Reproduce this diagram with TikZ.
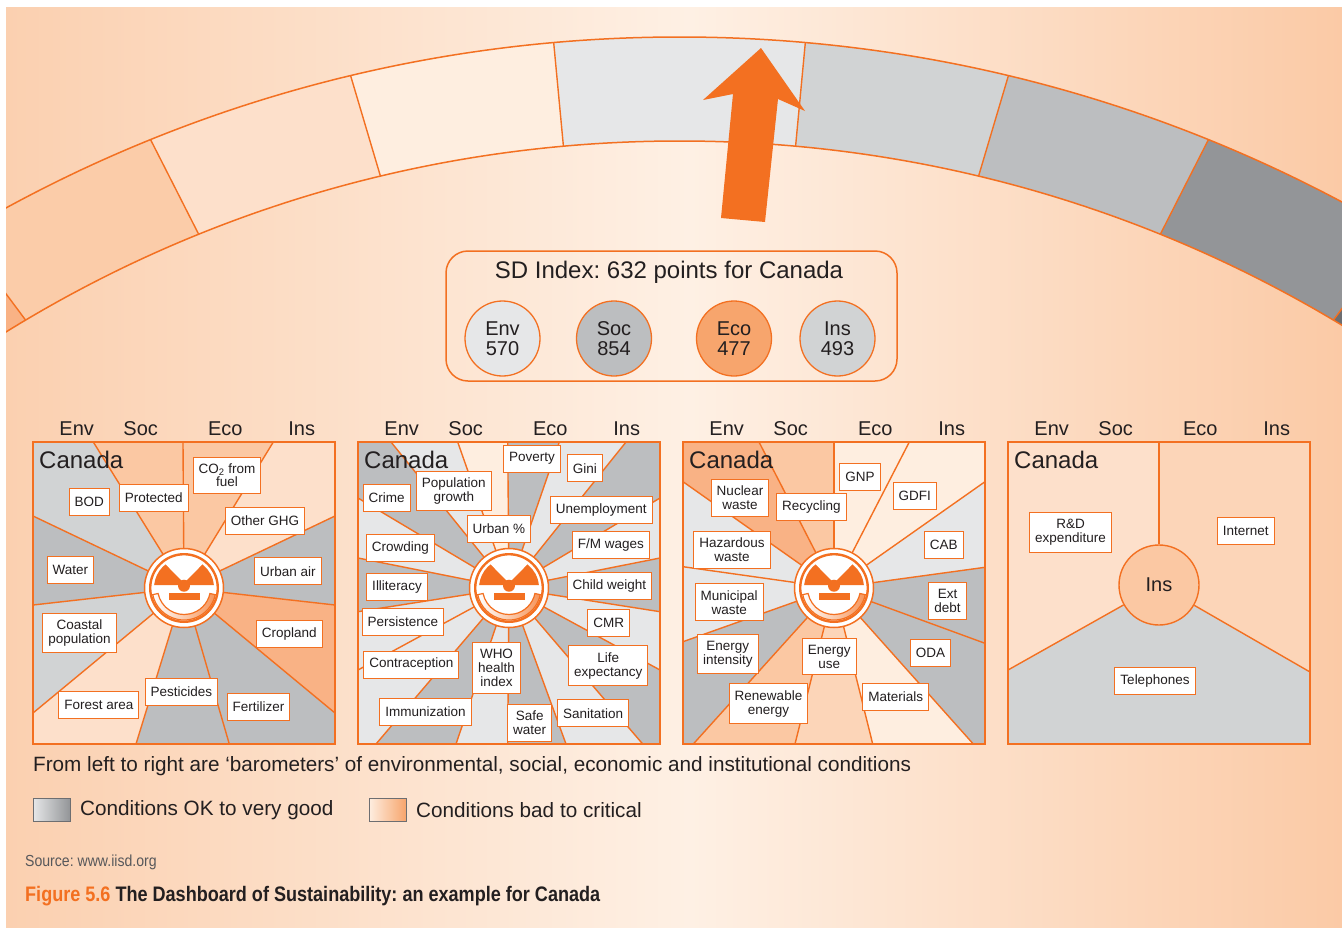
\documentclass[tikz,border=0pt]{standalone}
\usepackage{fontspec}
\setmainfont{Liberation Sans}
\usepackage{graphicx}
\usetikzlibrary{calc}
\definecolor{orng}{HTML}{F37021}
\definecolor{txt}{HTML}{231F20}
\definecolor{gA}{HTML}{E6E7E8}
\definecolor{gB}{HTML}{D1D3D4}
\definecolor{gC}{HTML}{BCBEC0}
\definecolor{gD}{HTML}{939598}
\definecolor{gE}{HTML}{6D6E71}
\definecolor{pA}{HTML}{FEEEE0}
\definecolor{pB}{HTML}{FDE0CB}
\definecolor{pC}{HTML}{FCD5B8}
\definecolor{pD}{HTML}{FBC8A3}
\definecolor{pE}{HTML}{F9B285}
\definecolor{pF}{HTML}{F7A56D}
\definecolor{bgL}{HTML}{FBD0B0}
\definecolor{bgM}{HTML}{FEF0E4}
\definecolor{bgR}{HTML}{FBCAA6}
\newcommand\fsz[2]{\fontsize{#1}{#2}\selectfont}
\frenchspacing
\tikzset{
 lbl/.style={draw=orng, line width=1pt, fill=white, inner xsep=5.5pt, inner ysep=6.5pt, minimum height=27pt, align=center, text=txt, font=\fsz{13.5}{14}},
 hdr/.style={text=txt, font=\fsz{20}{20}, inner sep=0pt},
 ray/.style={draw=orng, line width=1.4pt},
 frame/.style={draw=orng, line width=2pt},
 idx/.style={circle, draw=orng, line width=1.3pt, minimum size=75pt, inner sep=0pt, align=center, text=txt, font=\fsz{20}{20.5}},
 dial/.pic={
  \fill[white, draw=orng, line width=1.5pt] (0pt,0pt) circle[radius=39.5pt];
  \draw[orng, line width=2.4pt] (0pt,0pt) circle[radius=33.8pt];
  \fill[orng] (-29.85pt,3pt) -- (29.85pt,3pt) arc[start angle=5.74, end angle=174.26, radius=30pt] -- cycle;
  \fill[white] (0pt,5pt) -- (52:31pt) arc[start angle=52, end angle=128, radius=31pt] -- cycle;
  \fill[orng] (0pt,2.3pt) circle[radius=6pt];
  \fill[orng] (-15.5pt,-5pt) rectangle (15.5pt,-12.3pt);
  \path[draw=orng, line width=1.2pt, left color=white, right color=orng!75] (192:26.5pt) arc[start angle=192, end angle=348, radius=26.5pt] -- (348:32pt) arc[start angle=348, end angle=192, radius=32pt] -- cycle;
 }
}
\begin{document}
\begin{tikzpicture}[x=1pt,y=-1pt]
\useasboundingbox (0,0) rectangle (1342,927);
\fill[white] (0,0) rectangle (1342,927);
\fill[left color=bgL, right color=bgM] (6,7) rectangle (690,927);
\fill[left color=bgM, right color=bgR] (689.5,7) rectangle (1342,927);

% ---------- arc band ----------
\coordinate (I1) at (26.8,321.7);  \coordinate (O1) at (-40,232);
\coordinate (I2) at (198.7,234.3); \coordinate (O2) at (150.4,139.3);
\coordinate (I3) at (380.3,175.7); \coordinate (O3) at (350.4,75);
\coordinate (I4) at (563.4,146);   \coordinate (O4) at (553.6,41.7);
\coordinate (I5) at (795.6,146);   \coordinate (O5) at (805.4,41.7);
\coordinate (I6) at (978.7,175.7); \coordinate (O6) at (1008.6,75);
\coordinate (I7) at (1160.3,234.3);\coordinate (O7) at (1208.6,139.3);
\coordinate (I8) at (1332.2,321.7);\coordinate (O8) at (1399,232);
\foreach \i in {1,...,8}{
  \coordinate (A\i) at ($(I\i)!1.8!(O\i)$);
  \coordinate (B\i) at ($(O\i)!1.8!(I\i)$);
}
\begin{scope}
\clip (6,7) rectangle (1342,927);
\begin{scope}[even odd rule]
\clip (679.5,1447) circle[radius=1410pt] (679.5,1423) circle[radius=1282pt];
\fill[pE] (-400,0) -- (A1) -- (B1) -- (-400,700) -- cycle;
\fill[pD!70!pC] (A1) -- (B1) -- (B2) -- (A2) -- cycle;
\fill[pB] (A2) -- (B2) -- (B3) -- (A3) -- cycle;
\fill[pA] (A3) -- (B3) -- (B4) -- (A4) -- cycle;
\fill[gA] (A4) -- (B4) -- (B5) -- (A5) -- cycle;
\fill[gB] (A5) -- (B5) -- (B6) -- (A6) -- cycle;
\fill[gC] (A6) -- (B6) -- (B7) -- (A7) -- cycle;
\fill[gD] (A7) -- (B7) -- (B8) -- (A8) -- cycle;
\fill[gE] (A8) -- (B8) -- (1800,700) -- (1800,0) -- cycle;
\foreach \i in {1,...,8}{ \draw[ray] (A\i) -- (B\i); }
\end{scope}
\draw[orng, line width=1.5pt] (679.5,1447) circle[radius=1410pt];
\draw[orng, line width=1.5pt] (679.5,1423) circle[radius=1282pt];
\end{scope}

% arrow
\fill[orng] (761,48) -- (805,111) -- (778,99) -- (765,222) -- (721,218) -- (733,94) -- (703,100) -- cycle;

% ---------- SD index ----------
\node[draw=orng, line width=1.5pt, rounded corners=22pt, minimum width=451pt, minimum height=130pt, inner sep=0pt] (sdbox) at (671.5,316) {};
\node[text=txt, font=\fsz{24}{24}, inner sep=0pt] (sdtitle) at (669,272) {SD Index: 632 points for Canada};
\node[idx, fill=gA] (ienv) at (502.5,338.5) {Env\\570};
\node[idx, fill=gC] (isoc) at (614,338.5) {Soc\\854};
\node[idx, fill=pF] (ieco) at (734,338.5) {Eco\\477};
\node[idx, fill=gB] (iins) at (837.5,338.5) {Ins\\493};

% ---------- headers ----------
\foreach \k in {0,1,2,3}{
  \node[hdr] (henv\k) at (76.7+325*\k,429) {Env};
  \node[hdr] (hsoc\k) at (140.7+325*\k,429) {Soc};
  \node[hdr] (heco\k) at (225.3+325*\k,429) {Eco};
  \node[hdr] (hins\k) at (301.7+325*\k,429) {Ins};
}

% ---------- panel 1 ----------
\coordinate (c1) at (184,588);
\fill[gB] (c1) -- (33,516) -- (33,442) -- (93.3,442) -- cycle;
\fill[pD] (c1) -- (93.3,442) -- (183,442) -- cycle;
\fill[pD] (c1) -- (183,442) -- (273.3,442) -- cycle;
\fill[pB] (c1) -- (273.3,442) -- (335,442) -- (335,516) -- cycle;
\fill[gC] (c1) -- (335,516) -- (335,605) -- cycle;
\fill[pE] (c1) -- (335,605) -- (335,713) -- cycle;
\fill[gC] (c1) -- (335,713) -- (335,744) -- (229.3,744) -- cycle;
\fill[gC] (c1) -- (229.3,744) -- (136,744) -- cycle;
\fill[pB] (c1) -- (136,744) -- (33,744) -- (33,713) -- cycle;
\fill[gB] (c1) -- (33,713) -- (33,605) -- cycle;
\fill[gC] (c1) -- (33,605) -- (33,516) -- cycle;
\foreach \x/\y in {93.3/442,183/442,273.3/442,335/516,335/605,335/713,229.3/744,136/744,33/713,33/605,33/516}
  \draw[ray] (c1) -- (\x,\y);
\draw[frame] (33,442) rectangle (335,744);
\pic at (c1) {dial};

% ---------- panel 2 ----------
\coordinate (c2) at (509,588);
\fill[gC] (c2) -- (358,498) -- (358,442) -- (391,442) -- cycle;
\fill[gA] (c2) -- (391,442) -- (457.7,442) -- cycle;
\fill[pA] (c2) -- (457.7,442) -- (507.7,442) -- cycle;
\fill[gC] (c2) -- (507.7,442) -- (559.3,442) -- cycle;
\fill[gA] (c2) -- (559.3,442) -- (626,442) -- cycle;
\fill[gC] (c2) -- (626,442) -- (660,442) -- (660,498) -- cycle;
\fill[gA] (c2) -- (660,498) -- (660,558) -- cycle;
\fill[gC] (c2) -- (660,558) -- (660,611.7) -- cycle;
\fill[gA] (c2) -- (660,611.7) -- (660,670) -- cycle;
\fill[gC] (c2) -- (660,670) -- (660,744) -- (642.7,744) -- cycle;
\fill[gA] (c2) -- (642.7,744) -- (566,744) -- cycle;
\fill[gC] (c2) -- (566,744) -- (507.7,744) -- cycle;
\fill[gA] (c2) -- (507.7,744) -- (456,744) -- cycle;
\fill[gC] (c2) -- (456,744) -- (376,744) -- cycle;
\fill[gA] (c2) -- (376,744) -- (358,744) -- (358,670) -- cycle;
\fill[gA] (c2) -- (358,670) -- (358,611.7) -- cycle;
\fill[gC] (c2) -- (358,611.7) -- (358,558) -- cycle;
\fill[gA] (c2) -- (358,558) -- (358,498) -- cycle;
\foreach \x/\y in {391/442,457.7/442,507.7/442,559.3/442,626/442,660/498,660/558,660/611.7,660/670,642.7/744,566/744,507.7/744,456/744,376/744,358/670,358/611.7,358/558,358/498}
  \draw[ray] (c2) -- (\x,\y);
\draw[frame] (358,442) rectangle (660,744);
\pic at (c2) {dial};

% ---------- panel 3 ----------
\coordinate (c3) at (834,588);
\fill[pE] (c3) -- (683,481.7) -- (683,442) -- (759,442) -- cycle;
\fill[pD] (c3) -- (759,442) -- (834,442) -- cycle;
\fill[pA] (c3) -- (834,442) -- (909.3,442) -- cycle;
\fill[pA] (c3) -- (909.3,442) -- (985,442) -- (985,481.7) -- cycle;
\fill[gA] (c3) -- (985,481.7) -- (985,567.3) -- cycle;
\fill[gC] (c3) -- (985,567.3) -- (985,643.3) -- cycle;
\fill[gC] (c3) -- (985,643.3) -- (985,744) -- (973.3,744) -- cycle;
\fill[pA] (c3) -- (973.3,744) -- (872.7,744) -- cycle;
\fill[pC] (c3) -- (872.7,744) -- (795,744) -- cycle;
\fill[pD] (c3) -- (795,744) -- (693.3,744) -- cycle;
\fill[gC] (c3) -- (693.3,744) -- (683,744) -- (683,641.7) -- cycle;
\fill[gA] (c3) -- (683,641.7) -- (683,566.7) -- cycle;
\fill[gA] (c3) -- (683,566.7) -- (683,481.7) -- cycle;
\foreach \x/\y in {759/442,834/442,909.3/442,985/481.7,985/567.3,985/643.3,973.3/744,872.7/744,795/744,693.3/744,683/641.7,683/566.7,683/481.7}
  \draw[ray] (c3) -- (\x,\y);
\draw[frame] (683,442) rectangle (985,744);
\pic at (c3) {dial};

% ---------- panel 4 ----------
\coordinate (c4) at (1159,585);
\fill[pB] (c4) -- (1159,442) -- (1008,442) -- (1008,670) -- cycle;
\fill[pC] (c4) -- (1159,442) -- (1310,442) -- (1310,672) -- cycle;
\fill[gB] (c4) -- (1008,670) -- (1008,744) -- (1310,744) -- (1310,672) -- cycle;
\node[circle, draw=orng, line width=1.4pt, fill=pD, minimum size=80pt, inner sep=0pt, text=txt, font=\fsz{20}{20}] (ins4) at (c4) {Ins};
\draw[ray] (ins4) -- (1159,442);
\draw[ray] (ins4) -- (1008,670);
\draw[ray] (ins4) -- (1310,672);
\draw[frame] (1008,442) rectangle (1310,744);

% Canada titles
\foreach \k in {0,1,2,3}{
  \node[anchor=west, text=txt, font=\fsz{24}{24}, inner sep=0pt] (can\k) at (39+325*\k,460) {Canada};
}

% ---------- labels panel 1 ----------
\node[lbl] (bod) at (89.3,502) {BOD};
\node[lbl] (prot) at (153.7,498) {Protected};
\node[lbl, font=\fsz{13.5}{13}] (co2) at (227,475.5) {CO\textsubscript{2} from\\fuel};
\node[lbl] (oghg) at (265,520.7) {Other GHG};
\node[lbl] (water) at (70.3,570.3) {Water};
\node[lbl] (uair) at (288,571.3) {Urban air};
\node[lbl] (coast) at (79.5,632.8) {Coastal\\population};
\node[lbl] (crop) at (289.3,633.7) {Cropland};
\node[lbl] (pest) at (181.3,691.7) {Pesticides};
\node[lbl] (forest) at (98.8,704.7) {Forest area};
\node[lbl] (fert) at (258.5,707) {Fertilizer};

% ---------- labels panel 2 ----------
\node[lbl] (pov) at (532,458.7) {Poverty};
\node[lbl] (gini) at (584.8,468.3) {Gini};
\node[lbl] (popg) at (453.8,490.8) {Population\\growth};
\node[lbl] (crime) at (386.7,497.5) {Crime};
\node[lbl] (unemp) at (601.3,510.3) {Unemployment};
\node[lbl] (urban) at (498.8,529) {Urban \%};
\node[lbl] (crowd) at (400.3,548) {Crowding};
\node[lbl] (fmw) at (610.8,545) {F/M wages};
\node[lbl] (illit) at (397,586.7) {Illiteracy};
\node[lbl] (child) at (609.5,586) {Child weight};
\node[lbl] (pers) at (402.8,621.7) {Persistence};
\node[lbl] (cmr) at (608.7,623.3) {CMR};
\node[lbl] (contra) at (411.3,664.5) {Contraception};
\node[lbl] (who) at (496.5,667.8) {WHO\\health\\index};
\node[lbl] (life) at (608.3,665.7) {Life\\expectancy};
\node[lbl] (immun) at (425.5,711.7) {Immunization};
\node[lbl] (safew) at (529.7,722.7) {Safe\\water};
\node[lbl] (sanit) at (593.2,713.3) {Sanitation};

% ---------- labels panel 3 ----------
\node[lbl] (gnp) at (860,476.7) {GNP};
\node[lbl] (nucl) at (740,498) {Nuclear\\waste};
\node[lbl] (gdfi) at (914.7,496.3) {GDFI};
\node[lbl] (recyc) at (811.3,507.2) {Recycling};
\node[lbl] (hazw) at (732,549.7) {Hazardous\\waste};
\node[lbl] (cab) at (943.8,545.3) {CAB};
\node[lbl] (munw) at (729.2,602.3) {Municipal\\waste};
\node[lbl] (extd) at (947.5,600.8) {Ext\\debt};
\node[lbl] (enint) at (727.8,654) {Energy\\intensity};
\node[lbl] (enuse) at (829.2,656.7) {Energy\\use};
\node[lbl] (oda) at (930.5,653.3) {ODA};
\node[lbl] (renew) at (768.5,703.7) {Renewable\\energy};
\node[lbl] (mater) at (895.8,696.7) {Materials};

% ---------- labels panel 4 ----------
\node[lbl] (rnd) at (1070.5,532.5) {R\&D\\expenditure};
\node[lbl] (inet) at (1245.8,530.8) {Internet};
\node[lbl] (tel) at (1155,681) {Telephones};

% ---------- captions ----------
\node[anchor=west, text=txt, font=\fsz{20.7}{20.7}, inner sep=0pt] (expl) at (33,766) {From left to right are `barometers' of environmental, social, economic and institutional conditions};
\node[draw=gE, line width=1pt, left color=gA, right color=gD, minimum width=37pt, minimum height=23pt, inner sep=0pt] (lgok) at (51.5,809.5) {};
\node[anchor=west, text=txt, font=\fsz{20.7}{20.7}, inner sep=0pt] (lgoktxt) at (80,810) {Conditions OK to very good};
\node[draw=gE, line width=1pt, left color=pA, right color=pF, minimum width=37pt, minimum height=23pt, inner sep=0pt] (lgbad) at (387.5,809.5) {};
\node[anchor=west, text=txt, font=\fsz{20.7}{20.7}, inner sep=0pt] (lgbadtxt) at (416,810) {Conditions bad to critical};
\node[anchor=west, text=gE!80!black, inner sep=0pt] (src) at (25,862) {\scalebox{0.88}[1]{\fsz{16}{16}Source: www.iisd.org}};
\node[anchor=west, text=txt, inner sep=0pt] (cap) at (25,896) {\scalebox{0.86}[1]{\fsz{21}{21}\bfseries\textcolor{orng}{Figure 5.6} The Dashboard of Sustainability: an example for Canada}};
\end{tikzpicture}
\end{document}
